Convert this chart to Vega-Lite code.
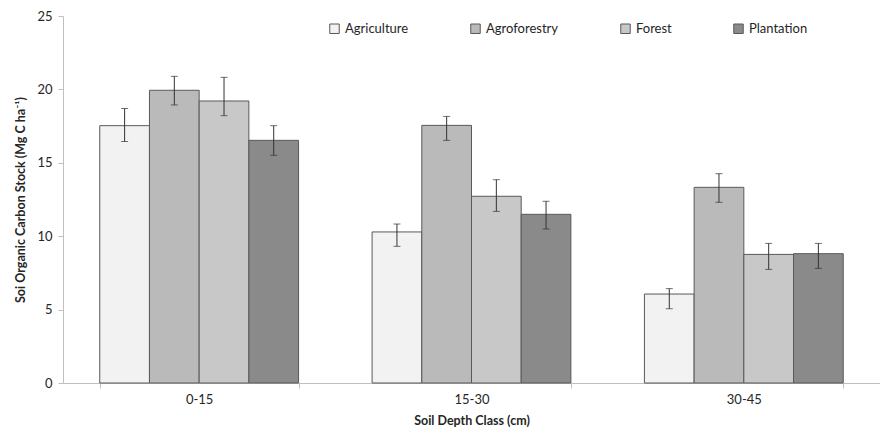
{
  "$schema": "https://vega.github.io/schema/vega-lite/v6.json",
  "width": 817,
  "height": 367,
  "autosize": "none",
  "padding": {"left": 63, "top": 16, "right": 0, "bottom": 56},
  "background": "white",
  "config": {
    "view": {"stroke": null},
    "font": "Lato",
    "scale": {"continuousPadding": 0},
    "axis": {"labelFont": "Lato", "titleFont": "Lato", "labelColor": "#262626", "titleColor": "#262626", "domainColor": "#bfbfbf", "tickColor": "#bfbfbf", "grid": false}
  },
  "data": {
    "values": [
      {"depth": "0-15", "type": "Agriculture", "value": 17.53, "lo": 16.45, "hi": 18.7},
      {"depth": "0-15", "type": "Agroforestry", "value": 19.94, "lo": 18.94, "hi": 20.89},
      {"depth": "0-15", "type": "Forest", "value": 19.21, "lo": 18.21, "hi": 20.82},
      {"depth": "0-15", "type": "Plantation", "value": 16.53, "lo": 15.51, "hi": 17.53},
      {"depth": "15-30", "type": "Agriculture", "value": 10.29, "lo": 9.31, "hi": 10.83},
      {"depth": "15-30", "type": "Agroforestry", "value": 17.55, "lo": 16.53, "hi": 18.16},
      {"depth": "15-30", "type": "Forest", "value": 12.72, "lo": 11.69, "hi": 13.85},
      {"depth": "15-30", "type": "Plantation", "value": 11.49, "lo": 10.49, "hi": 12.38},
      {"depth": "30-45", "type": "Agriculture", "value": 6.06, "lo": 5.06, "hi": 6.43},
      {"depth": "30-45", "type": "Agroforestry", "value": 13.33, "lo": 12.31, "hi": 14.26},
      {"depth": "30-45", "type": "Forest", "value": 8.76, "lo": 7.74, "hi": 9.51},
      {"depth": "30-45", "type": "Plantation", "value": 8.81, "lo": 7.81, "hi": 9.51}
    ]
  },
  "encoding": {
    "x": {
      "field": "depth", "type": "nominal", "sort": ["0-15", "15-30", "30-45"],
      "scale": {"paddingInner": 0.27, "paddingOuter": 0.135},
      "axis": {"title": "Soil Depth Class (cm)", "labelAngle": 0, "labelFontSize": 13, "labelPadding": 5, "titleFontSize": 12.5, "titleFontWeight": "bold", "titlePadding": 8, "tickBand": "extent", "ticks": true, "tickSize": 5}
    },
    "xOffset": {"field": "type", "type": "nominal", "sort": ["Agriculture", "Agroforestry", "Forest", "Plantation"], "scale": {"paddingInner": 0, "paddingOuter": 0}}
  },
  "layer": [
    {
      "mark": {"type": "bar", "stroke": "#595959", "strokeWidth": 1},
      "encoding": {
        "y": {
          "field": "value", "type": "quantitative",
          "scale": {"domain": [0, 25], "nice": false, "padding": 0, "zero": true},
          "axis": {"title": "Soi Organic Carbon Stock (Mg C ha⁻¹)", "values": [0, 5, 10, 15, 20, 25], "labelFontSize": 13, "labelPadding": 6, "titleFontSize": 12.5, "titleFontWeight": "bold", "titlePadding": 9, "tickSize": 5}
        },
        "fill": {
          "field": "type", "type": "nominal",
          "sort": ["Agriculture", "Agroforestry", "Forest", "Plantation"],
          "scale": {"domain": ["Agriculture", "Agroforestry", "Forest", "Plantation"], "range": ["#f2f2f2", "#bababa", "#c8c8c8", "#8a8a8a"]},
          "legend": {
            "title": null, "orient": "none", "direction": "horizontal",
            "legendX": 265, "legendY": 6,
            "symbolType": "square", "symbolSize": 90, "symbolStrokeColor": "#595959", "symbolStrokeWidth": 1,
            "labelFontSize": 13, "labelColor": "#262626", "columnPadding": 59, "labelOffset": 4
          }
        }
      }
    },
    {
      "mark": {"type": "rule", "color": "#333333", "strokeWidth": 1},
      "encoding": {
        "y": {"field": "lo", "type": "quantitative"},
        "y2": {"field": "hi"}
      }
    },
    {
      "mark": {"type": "tick", "color": "#333333", "size": 7, "thickness": 1, "orient": "horizontal"},
      "encoding": {"y": {"field": "lo", "type": "quantitative"}}
    },
    {
      "mark": {"type": "tick", "color": "#333333", "size": 7, "thickness": 1, "orient": "horizontal"},
      "encoding": {"y": {"field": "hi", "type": "quantitative"}}
    }
  ]
}
